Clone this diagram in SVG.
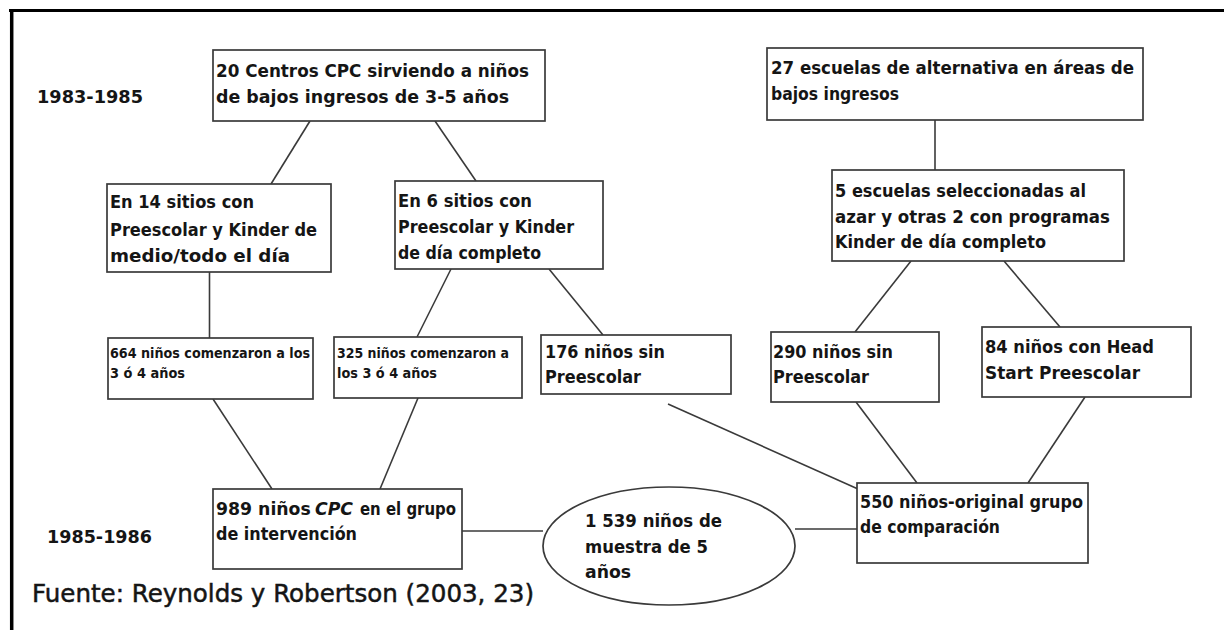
<svg xmlns="http://www.w3.org/2000/svg" width="1224" height="630" viewBox="0 0 1224 630">
<style>
.box{fill:#fff;stroke:#3a3a3a;stroke-width:1.7}
.t{font-family:"DejaVu Sans","Liberation Sans",sans-serif;font-weight:bold;font-size:17.3px;fill:#151515}
.s{font-size:13.3px}
.lbl{font-family:"DejaVu Sans","Liberation Sans",sans-serif;font-weight:bold;font-size:18px;fill:#151515}
.src{font-family:"DejaVu Sans","Liberation Sans",sans-serif;font-size:24px;fill:#151515;stroke:#151515;stroke-width:0.5}
.c line{stroke:#3a3a3a;stroke-width:1.6}
</style>
<rect width="1224" height="630" fill="#fff"/>
<g id="frame" fill="none" stroke="#000">
<line x1="9" y1="10.5" x2="1224" y2="10.5" stroke-width="3.2"/>
<line x1="11.7" y1="9" x2="11.7" y2="630" stroke-width="3.5"/>
</g>
<g id="connectors" class="c">
<line x1="310" y1="121" x2="271" y2="184"/>
<line x1="435" y1="121" x2="476" y2="181"/>
<line x1="935" y1="120" x2="935" y2="170"/>
<line x1="209.5" y1="272" x2="209.5" y2="338"/>
<line x1="451" y1="269" x2="417" y2="337"/>
<line x1="549" y1="269" x2="603" y2="335"/>
<line x1="911" y1="261" x2="855" y2="332"/>
<line x1="1004" y1="261" x2="1060" y2="327"/>
<line x1="213" y1="399" x2="272" y2="489"/>
<line x1="418" y1="398" x2="380" y2="489"/>
<line x1="668" y1="404" x2="858" y2="489"/>
<line x1="856" y1="402" x2="917" y2="483"/>
<line x1="1085" y1="397" x2="1028" y2="483"/>
<line x1="462" y1="531" x2="543" y2="531"/>
<line x1="795" y1="529" x2="857" y2="529"/>
</g>
<g id="label-1983"><text class="lbl" x="37" y="103" textLength="106" lengthAdjust="spacingAndGlyphs">1983-1985</text></g>
<g id="label-1985"><text class="lbl" x="47" y="543" textLength="105" lengthAdjust="spacingAndGlyphs">1985-1986</text></g>
<g id="source"><text class="src" x="32" y="602" textLength="502" lengthAdjust="spacingAndGlyphs">Fuente: Reynolds y Robertson (2003, 23)</text></g>
<g id="n-centros">
<rect class="box" x="213" y="50" width="332" height="71"/>
<text class="t" x="216" y="77" textLength="313" lengthAdjust="spacingAndGlyphs">20 Centros CPC sirviendo a niños</text>
<text class="t" x="216" y="103" textLength="293" lengthAdjust="spacingAndGlyphs">de bajos ingresos de 3-5 años</text>
</g>
<g id="n-escuelas">
<rect class="box" x="767" y="48" width="376" height="72"/>
<text class="t" x="771" y="74" textLength="363" lengthAdjust="spacingAndGlyphs">27 escuelas de alternativa en áreas de</text>
<text class="t" x="771" y="100" textLength="128" lengthAdjust="spacingAndGlyphs">bajos ingresos</text>
</g>
<g id="n-14sitios">
<rect class="box" x="107" y="184" width="224" height="88"/>
<text class="t" x="110" y="208" textLength="144" lengthAdjust="spacingAndGlyphs">En 14 sitios con</text>
<text class="t" x="110" y="236" textLength="207" lengthAdjust="spacingAndGlyphs">Preescolar y Kinder de</text>
<text class="t" x="110" y="262" textLength="180" lengthAdjust="spacingAndGlyphs">medio/todo el día</text>
</g>
<g id="n-6sitios">
<rect class="box" x="395" y="181" width="208" height="88"/>
<text class="t" x="398" y="207" textLength="134" lengthAdjust="spacingAndGlyphs">En 6 sitios con</text>
<text class="t" x="398" y="233" textLength="176" lengthAdjust="spacingAndGlyphs">Preescolar y Kinder</text>
<text class="t" x="398" y="259" textLength="143" lengthAdjust="spacingAndGlyphs">de día completo</text>
</g>
<g id="n-5escuelas">
<rect class="box" x="832" y="170" width="292" height="91"/>
<text class="t" x="835" y="197" textLength="251" lengthAdjust="spacingAndGlyphs">5 escuelas seleccionadas al</text>
<text class="t" x="835" y="223" textLength="275" lengthAdjust="spacingAndGlyphs">azar y otras 2 con programas</text>
<text class="t" x="835" y="248" textLength="211" lengthAdjust="spacingAndGlyphs">Kinder de día completo</text>
</g>
<g id="n-664">
<rect class="box" x="108" y="338" width="205" height="61"/>
<text class="t s" x="110" y="358" textLength="200" lengthAdjust="spacingAndGlyphs">664 niños comenzaron a los</text>
<text class="t s" x="110" y="378" textLength="75" lengthAdjust="spacingAndGlyphs">3 ó 4 años</text>
</g>
<g id="n-325">
<rect class="box" x="334" y="337" width="188" height="61"/>
<text class="t s" x="337" y="358" textLength="172" lengthAdjust="spacingAndGlyphs">325 niños comenzaron a</text>
<text class="t s" x="337" y="378" textLength="100" lengthAdjust="spacingAndGlyphs">los 3 ó 4 años</text>
</g>
<g id="n-176">
<rect class="box" x="541" y="335" width="190" height="59"/>
<text class="t" x="545" y="358" textLength="120" lengthAdjust="spacingAndGlyphs">176 niños sin</text>
<text class="t" x="545" y="383" textLength="96" lengthAdjust="spacingAndGlyphs">Preescolar</text>
</g>
<g id="n-290">
<rect class="box" x="771" y="332" width="168" height="70"/>
<text class="t" x="773" y="358" textLength="120" lengthAdjust="spacingAndGlyphs">290 niños sin</text>
<text class="t" x="773" y="383" textLength="96" lengthAdjust="spacingAndGlyphs">Preescolar</text>
</g>
<g id="n-84">
<rect class="box" x="982" y="327" width="209" height="70"/>
<text class="t" x="985" y="353" textLength="169" lengthAdjust="spacingAndGlyphs">84 niños con Head</text>
<text class="t" x="985" y="379" textLength="155" lengthAdjust="spacingAndGlyphs">Start Preescolar</text>
</g>
<g id="n-989">
<rect class="box" x="213" y="489" width="249" height="80"/>
<text class="t" x="216" y="515">989 niños</text>
<text class="t" x="315" y="515" font-style="italic">CPC</text>
<text class="t" x="360" y="515" textLength="96" lengthAdjust="spacingAndGlyphs">en el grupo</text>
<text class="t" x="216" y="540" textLength="141" lengthAdjust="spacingAndGlyphs">de intervención</text>
</g>
<g id="n-550">
<rect class="box" x="857" y="483" width="231" height="80"/>
<text class="t" x="860" y="508" textLength="223" lengthAdjust="spacingAndGlyphs">550 niños-original grupo</text>
<text class="t" x="860" y="533" textLength="140" lengthAdjust="spacingAndGlyphs">de comparación</text>
</g>
<g id="n-1539">
<ellipse class="box" cx="669" cy="546" rx="126" ry="59"/>
<text class="t" x="585" y="527" textLength="137" lengthAdjust="spacingAndGlyphs">1 539 niños de</text>
<text class="t" x="585" y="553" textLength="123" lengthAdjust="spacingAndGlyphs">muestra de 5</text>
<text class="t" x="585" y="578">años</text>
</g>
</svg>
